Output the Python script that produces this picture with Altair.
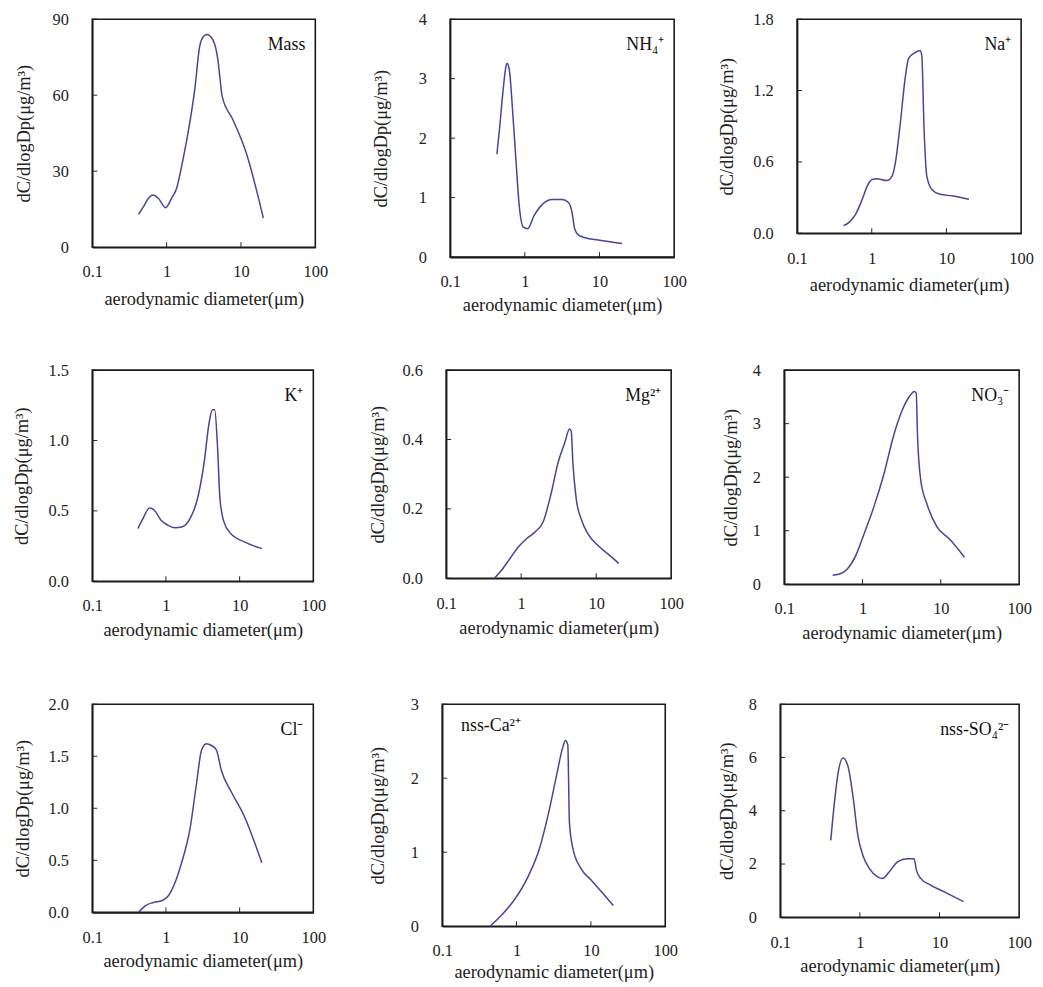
import altair as alt
import pandas as pd

# ---- data (x: aerodynamic diameter in um, y: dC/dlogDp) ----
mass_x = [0.42, 0.489, 0.57, 0.65, 0.774, 0.97, 1.166, 1.36, 1.668, 2.05, 2.39, 2.78, 3.15, 3.48, 4.19, 4.89, 5.25, 5.58, 7.74, 11.7, 20.0]
mass_y = [13.0, 16.0, 19.3, 20.6, 19.3, 15.6, 19.3, 23.2, 34.9, 49.2, 62.2, 79.2, 83.3, 84.0, 81.8, 74.0, 66.1, 59.6, 50.5, 37.5, 11.5]

nh4_x = [0.423, 0.459, 0.508, 0.562, 0.578, 0.622, 0.689, 0.762, 0.843, 0.953, 1.09, 1.33, 1.72, 2.33, 3.16, 3.87, 4.29, 4.65, 5.25, 6.43, 9.66, 20.0]
nh4_y = [1.73, 2.16, 2.76, 3.22, 3.26, 3.14, 2.43, 1.62, 0.86, 0.505, 0.478, 0.696, 0.886, 0.967, 0.967, 0.913, 0.75, 0.478, 0.37, 0.326, 0.288, 0.23]

na_x = [0.42, 0.497, 0.609, 0.746, 0.869, 1.01, 1.18, 1.60, 1.87, 2.07, 2.41, 2.81, 3.11, 3.82, 4.45, 4.68, 5.02, 5.46, 6.36, 8.2, 12.3, 20.0]
na_y = [0.064, 0.092, 0.161, 0.286, 0.397, 0.453, 0.458, 0.444, 0.481, 0.592, 0.925, 1.31, 1.47, 1.52, 1.536, 1.49, 0.87, 0.48, 0.369, 0.328, 0.314, 0.286]

k_x = [0.417, 0.487, 0.598, 0.698, 0.859, 1.06, 1.30, 1.68, 2.18, 2.68, 3.30, 3.85, 4.27, 4.59, 4.98, 5.41, 6.12, 7.53, 11.4, 20.0]
k_y = [0.375, 0.445, 0.52, 0.504, 0.434, 0.398, 0.38, 0.387, 0.457, 0.586, 0.844, 1.125, 1.219, 1.219, 0.984, 0.586, 0.422, 0.34, 0.281, 0.232]

mg_x = [0.44, 0.551, 0.71, 0.916, 1.18, 1.52, 1.96, 2.53, 3.10, 3.80, 4.42, 4.65, 4.89, 5.42, 6.31, 7.73, 10.5, 14.2, 20.0]
mg_y = [0.0, 0.024, 0.057, 0.090, 0.114, 0.133, 0.162, 0.248, 0.333, 0.39, 0.43, 0.424, 0.333, 0.229, 0.171, 0.129, 0.095, 0.071, 0.043]

no3_x = [0.416, 0.531, 0.644, 0.82, 1.04, 1.40, 1.87, 2.50, 3.19, 4.07, 4.57, 4.85, 5.04, 5.56, 6.61, 8.85, 13.0, 20.0]
no3_y = [0.17, 0.2, 0.29, 0.535, 0.93, 1.45, 2.05, 2.78, 3.24, 3.53, 3.60, 3.57, 2.78, 1.93, 1.51, 1.08, 0.84, 0.505]

cl_x = [0.425, 0.523, 0.677, 0.877, 1.08, 1.33, 1.63, 2.11, 2.60, 3.03, 3.54, 4.14, 4.83, 5.64, 7.69, 11.6, 20.0]
cl_y = [0.0, 0.063, 0.095, 0.111, 0.159, 0.286, 0.476, 0.794, 1.238, 1.556, 1.619, 1.603, 1.562, 1.365, 1.159, 0.921, 0.476]

ca_x = [0.44, 0.631, 0.951, 1.43, 2.05, 2.64, 3.41, 4.19, 4.55, 4.89, 5.14, 5.70, 7.36, 10.0, 13.6, 20.0]
ca_y = [0.0, 0.152, 0.368, 0.671, 1.06, 1.49, 2.01, 2.42, 2.51, 2.45, 1.41, 1.06, 0.779, 0.628, 0.476, 0.281]

so4_x = [0.431, 0.484, 0.533, 0.614, 0.709, 0.818, 0.944, 1.09, 1.32, 1.67, 1.93, 2.34, 2.97, 3.96, 4.80, 5.13, 5.80, 7.73, 11.3, 20.0]
so4_y = [2.89, 4.43, 5.42, 5.98, 5.67, 4.56, 3.07, 2.33, 1.83, 1.52, 1.46, 1.71, 2.08, 2.20, 2.20, 1.77, 1.46, 1.21, 0.966, 0.594]

x_ticks = [0.1, 1, 10, 100]
x_inner_ticks = [1, 10]

# name, x, y, y-axis max, y ticks, tick format, label side, width, height, y-title offset, x-title padding
panels = [
    ("Mass", mass_x, mass_y, 90, [0, 30, 60, 90], "d", "right", 225, 230, 69, 9),
    ("NH\u2084\u207a", nh4_x, nh4_y, 4, [0, 1, 2, 3, 4], "d", "right", 226, 240, 70, 5),
    ("Na\u207a", na_x, na_y, 1.8, [0.0, 0.6, 1.2, 1.8], ".1f", "right", 226, 216, 71, 9),
    ("K\u207a", k_x, k_y, 1.5, [0.0, 0.5, 1.0, 1.5], ".1f", "right", 223, 213, 71, 6),
    ("Mg\u00b2\u207a", mg_x, mg_y, 0.6, [0.0, 0.2, 0.4, 0.6], ".1f", "right", 227, 210, 69, 7),
    ("NO\u2083\u207b", no3_x, no3_y, 4, [0, 1, 2, 3, 4], "d", "right", 237, 216, 54, 6),
    ("Cl\u207b", cl_x, cl_y, 2.0, [0.0, 0.5, 1.0, 1.5, 2.0], ".1f", "right", 223, 210, 70, 6),
    ("nss-Ca\u00b2\u207a", ca_x, ca_y, 3, [0, 1, 2, 3], "d", "left", 225, 224, 65, 3),
    ("nss-SO\u2084\u00b2\u207b", so4_x, so4_y, 8, [0, 2, 4, 6, 8], "d", "right", 241, 215, 54, 6),
]

LINE = "#45459a"
FONT = "Liberation Serif"
YTITLE = "dC/dlogDp(\u03bcg/m\u00b3)"
XTITLE = "aerodynamic diameter(\u03bcm)"


def panel(name, xs, ys, ymax, yticks, fmt, side, w, h, toff, xtp):
    df = pd.DataFrame({"d": xs, "v": ys})
    xscale = alt.Scale(type="log", domain=[0.1, 100], nice=False)
    yscale = alt.Scale(domain=[0, ymax], nice=False, zero=True)
    xaxis = alt.Axis(
        values=x_ticks, format="~g", title=XTITLE, ticks=False, grid=False,
        labelFlush=False, labelOverlap=False, labelPadding=17, titlePadding=xtp,
    )
    yaxis = alt.Axis(
        values=yticks, format=fmt, title=YTITLE, ticks=False, grid=False,
        labelPadding=24, titleBaseline="middle", titleX=-toff,
    )
    line = alt.Chart(df).mark_line(color=LINE, strokeWidth=1.5, interpolate="monotone").encode(
        x=alt.X("d:Q", scale=xscale, axis=xaxis),
        y=alt.Y("v:Q", scale=yscale, axis=yaxis),
    )
    ytk = alt.Chart(pd.DataFrame({"v": yticks})).mark_rule(color="#222", strokeWidth=1).encode(
        y="v:Q", x=alt.value(0), x2=alt.value(5)
    )
    xtk = alt.Chart(pd.DataFrame({"d": x_inner_ticks})).mark_rule(color="#222", strokeWidth=1).encode(
        x="d:Q", y=alt.value(h), y2=alt.value(h - 5)
    )
    if side == "right":
        lab = alt.Chart(pd.DataFrame({"t": [name]})).mark_text(
            align="right", baseline="alphabetic", font=FONT, fontSize=18, color="#111"
        ).encode(text="t:N", x=alt.value(w - 10), y=alt.value(31))
    else:
        lab = alt.Chart(pd.DataFrame({"t": [name]})).mark_text(
            align="left", baseline="alphabetic", font=FONT, fontSize=18, color="#111"
        ).encode(text="t:N", x=alt.value(19), y=alt.value(27))
    return alt.layer(line, ytk, xtk, lab).properties(width=w, height=h)


c = [panel(*p) for p in panels]

# gaps between neighbouring panels differ in the reference, so the rows are nested
row1 = alt.hconcat(alt.hconcat(c[0], c[1], spacing=42), c[2], spacing=29)
row2 = alt.hconcat(alt.hconcat(c[3], c[4], spacing=41), c[5], spacing=36)
row3 = alt.hconcat(alt.hconcat(c[6], c[7], spacing=41), c[8], spacing=38)

chart = alt.vconcat(alt.vconcat(row1, row2, spacing=47), row3, spacing=53).properties(
    padding={"left": 4, "top": -2, "right": 0, "bottom": 0}
).configure(
    font=FONT
).configure_view(
    stroke="#1a1a1a", strokeWidth=1.6
).configure_axis(
    domainColor="#1a1a1a", domainWidth=1.6,
    labelFont=FONT, labelFontSize=16.5, labelColor="#222",
    titleFont=FONT, titleFontSize=18.5, titleFontWeight="normal", titleColor="#222",
)

chart.save("out.html", embed_options={"renderer": "svg", "actions": False})
